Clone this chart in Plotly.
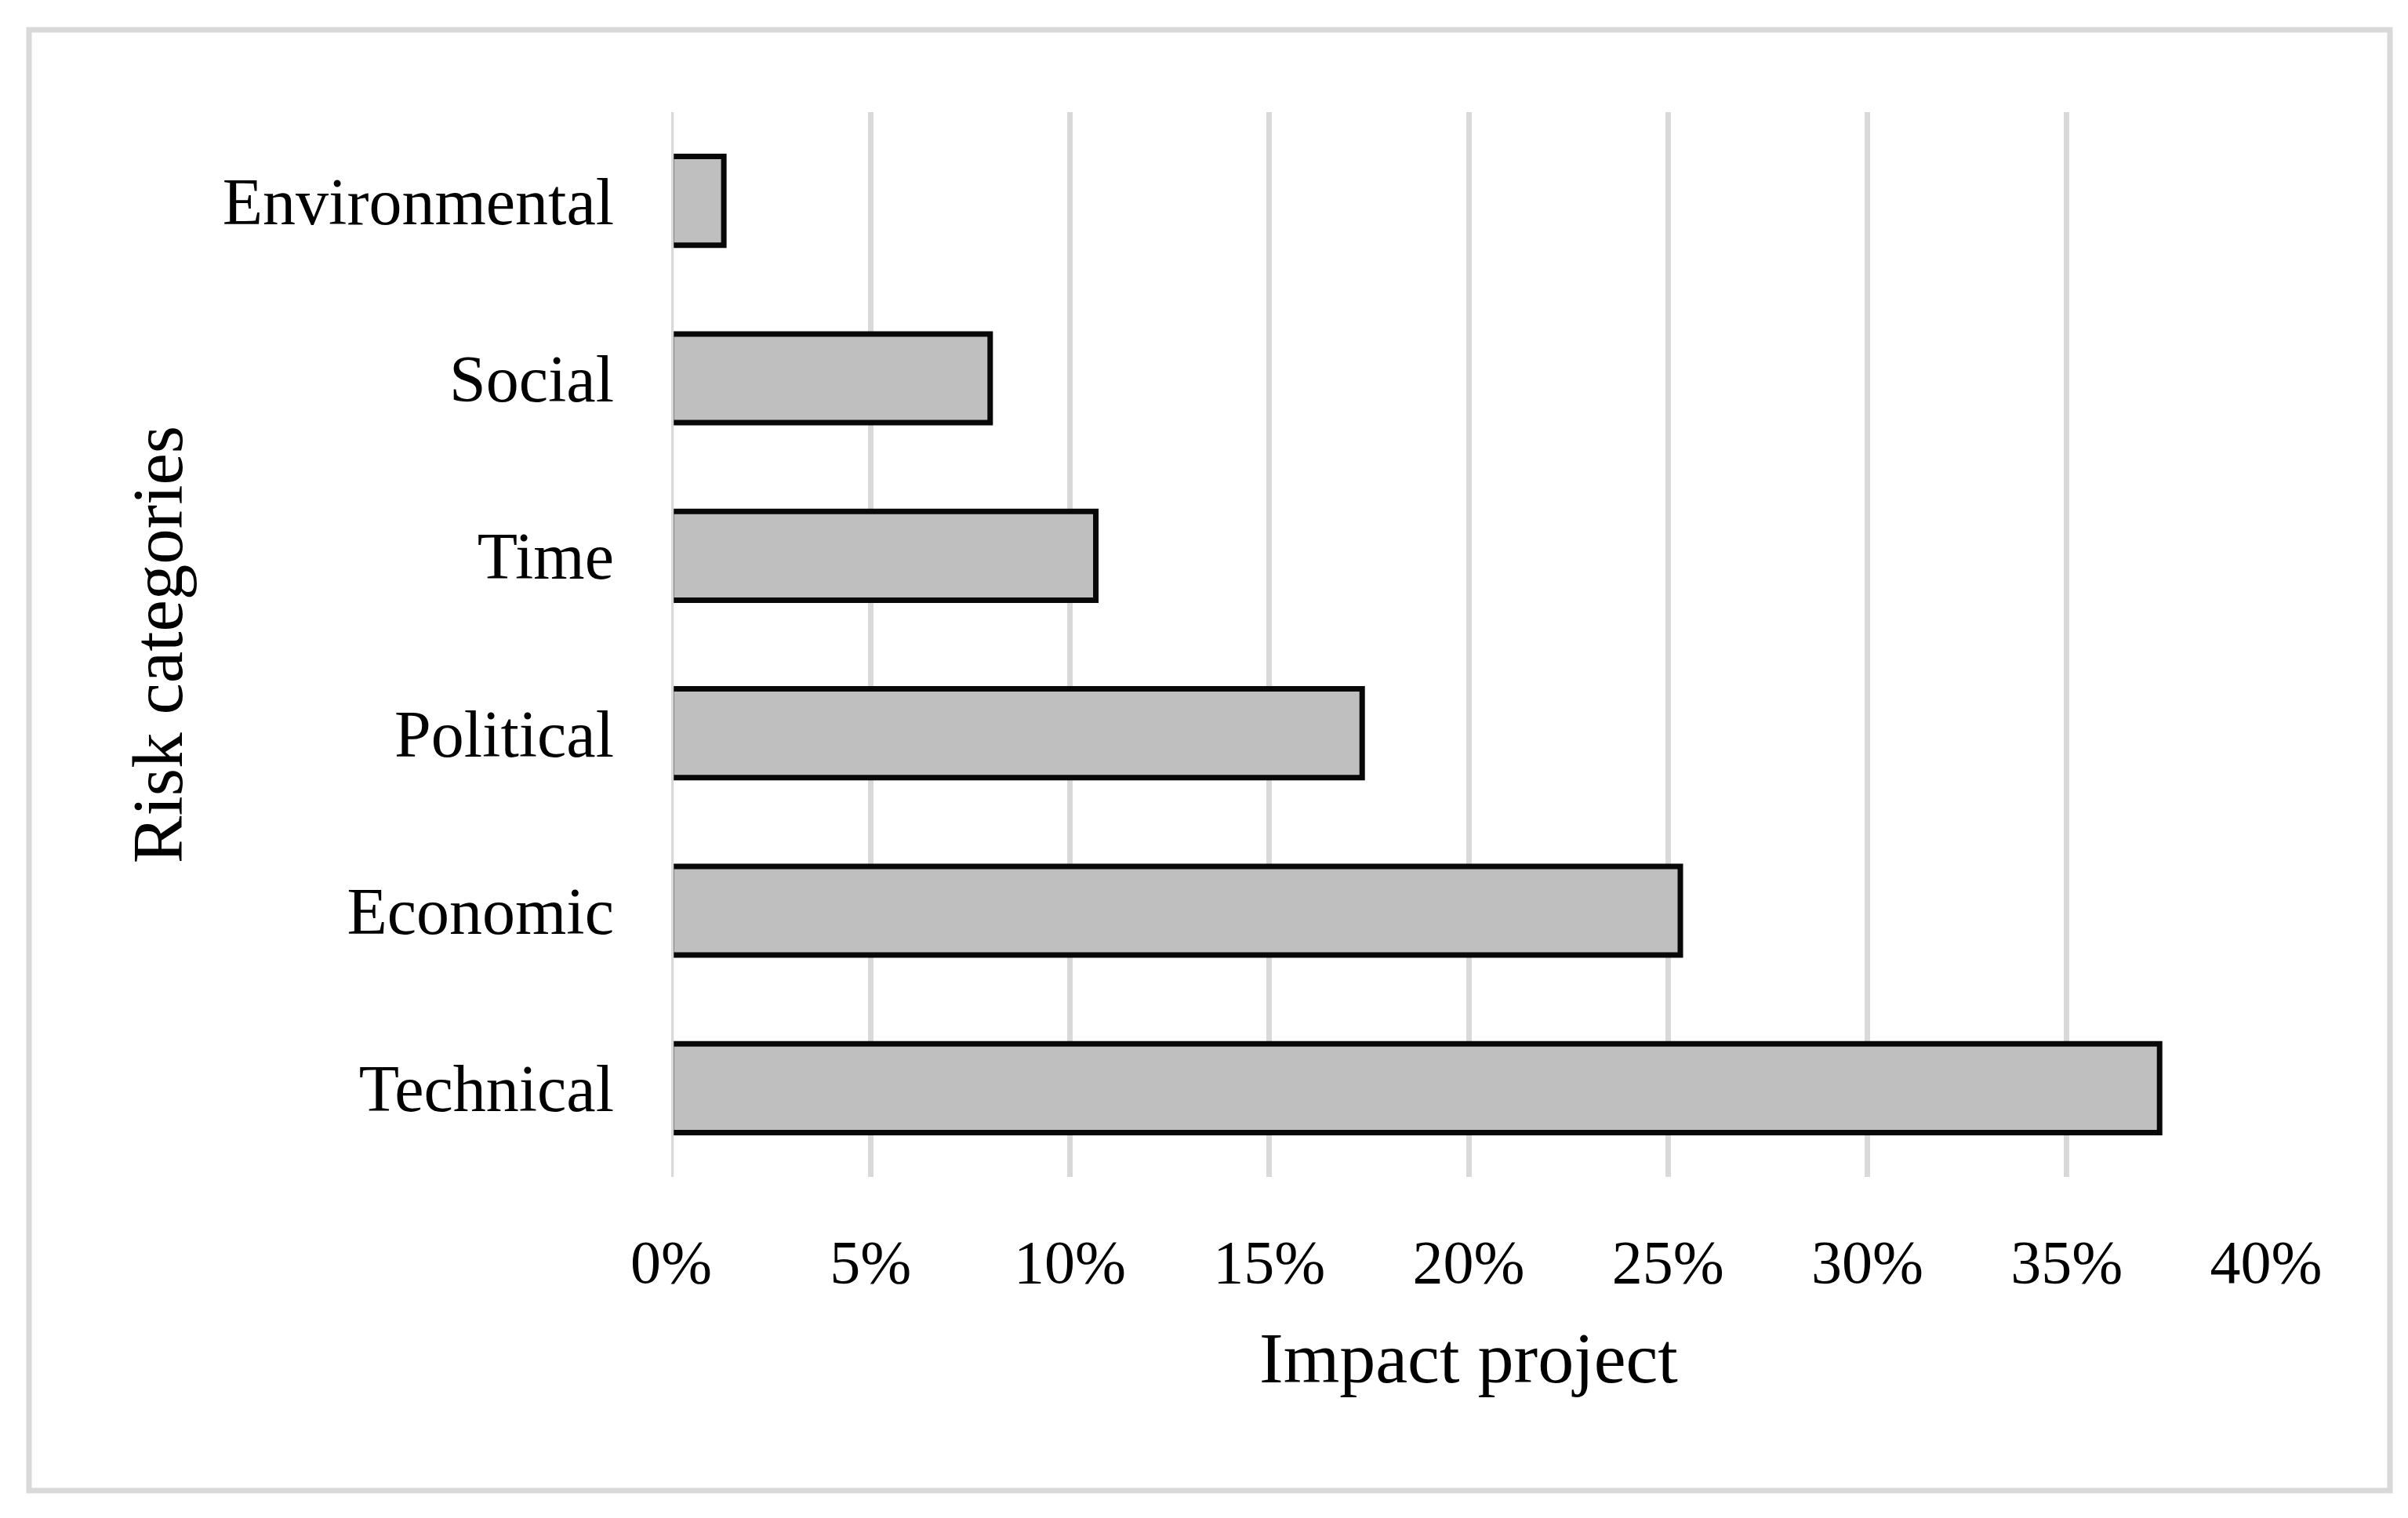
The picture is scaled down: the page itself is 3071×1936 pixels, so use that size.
import plotly.graph_objects as go

# Data (bottom to top)
categories = ["Technical", "Economic", "Political", "Time", "Social", "Environmental"]
impact = [0.3733, 0.2531, 0.1733, 0.1065, 0.0800, 0.0132]
x_ticks = [0, 0.05, 0.10, 0.15, 0.20, 0.25, 0.30, 0.35, 0.40]
x_title = "Impact project"
y_title = "Risk categories"

W, H = 3071, 1936
L, R, T, B = 848, 189, 135, 443
FONT = "Liberation Serif"
GRID = "#d9d9d9"

fig = go.Figure(
    go.Bar(
        x=impact,
        y=categories,
        orientation="h",
        marker=dict(color="#bfbfbf", line=dict(color="#080808", width=7)),
        hoverinfo="x+y",
    )
)

pw = W - L - R
ph = H - T - B

def px_to_paper_x(px):
    return (px - L) / pw

def px_to_paper_y(py):
    return (H - B - py) / ph

fig.update_layout(
    width=W,
    height=H,
    margin=dict(l=L, r=R, t=T, b=B, autoexpand=False),
    paper_bgcolor="white",
    plot_bgcolor="white",
    bargap=0.5,
    showlegend=False,
    font=dict(family=FONT, color="black", size=80),
    xaxis=dict(
        range=[0, 0.40],
        tickvals=x_ticks,
        tickformat=".0%",
        showgrid=True,
        gridcolor=GRID,
        gridwidth=6.5,
        zeroline=False,
        showline=False,
        ticks="",
        ticklabelstandoff=56,
        tickfont=dict(family=FONT, size=78, color="black"),
        title=dict(text=x_title, font=dict(family=FONT, size=92, color="black"), standoff=46),
        automargin=False,
        fixedrange=True,
    ),
    yaxis=dict(
        categoryorder="array",
        categoryarray=categories,
        showgrid=False,
        zeroline=False,
        showline=False,
        ticks="",
        ticklabelstandoff=72,
        tickfont=dict(family=FONT, size=84, color="black"),
        title=dict(text=y_title, font=dict(family=FONT, size=91, color="black"), standoff=20),
        automargin=False,
        fixedrange=True,
    ),
    shapes=[
        # zero gridline drawn above the bars (hides their left edges, as in the original)
        dict(type="line", xref="x", yref="paper", x0=0, x1=0, y0=0, y1=1,
             line=dict(color=GRID, width=6.5), layer="above"),
        # chart-area border
        dict(type="rect", xref="paper", yref="paper",
             x0=px_to_paper_x(29), x1=px_to_paper_x(3040),
             y0=px_to_paper_y(1893), y1=px_to_paper_y(30),
             line=dict(color=GRID, width=7), fillcolor="rgba(0,0,0,0)", layer="below"),
    ],
)

fig.write_html("out.html")
